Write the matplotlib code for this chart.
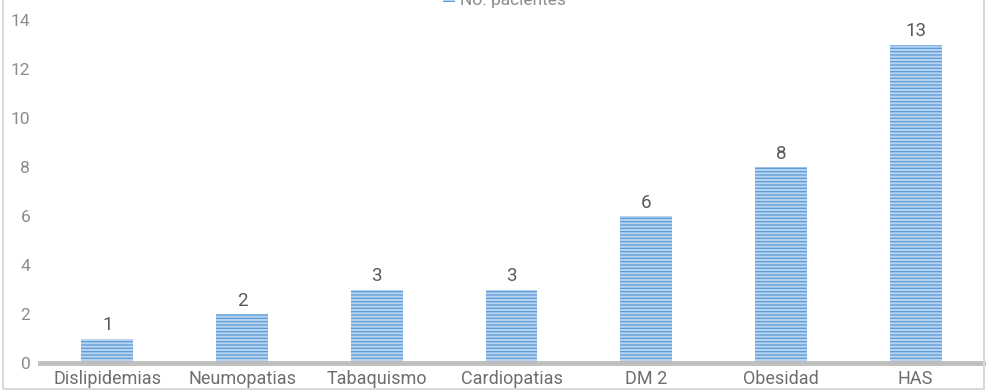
import matplotlib
matplotlib.use("Agg")
import matplotlib.pyplot as plt
from matplotlib.patches import Rectangle

categories = ["Dislipidemias", "Neumopatias", "Tabaquismo", "Cardiopatias", "DM 2", "Obesidad", "HAS"]
pacientes = [1, 2, 3, 3, 6, 8, 13]
y_ticks = [0, 2, 4, 6, 8, 10, 12, 14]
series_name = "No. pacientes"

plt.rcParams["font.family"] = ["Roboto", "DejaVu Sans"]
plt.rcParams["hatch.linewidth"] = 0.9
plt.rcParams["hatch.color"] = "#5b9bd5"

fig = plt.figure(figsize=(9.86, 3.91), dpi=100)
ax = fig.add_axes([40 / 986, 1 - 363 / 391, 943 / 986, 343 / 391])

x = list(range(len(categories)))
bars = ax.bar(x, pacientes, width=0.385, color="#b7d3f0", edgecolor="#5b9bd5",
              linewidth=0, hatch="-----", zorder=2)

for xi, v in zip(x, pacientes):
    ax.annotate(str(v), (xi, v), xytext=(0, 3), textcoords="offset points",
                ha="center", va="bottom", fontsize=13.5, color="#595959")

ax.set_xlim(-0.5, len(categories) - 0.5)
ax.set_ylim(0, 14)
ax.set_yticks(y_ticks)
ax.set_xticks(x)
ax.set_xticklabels(categories)
ax.tick_params(axis="y", length=0, labelsize=12.5, labelcolor="#8c8c8c", pad=7)
ax.tick_params(axis="x", length=0, labelsize=13, labelcolor="#6e6e6e", pad=5)
for s in ax.spines.values():
    s.set_visible(False)
ax.axhline(0, color="#bfbfbf", lw=3.5, zorder=3, clip_on=False)

# legend entry sitting at the top edge
fig.patches.append(Rectangle((443 / 986, 1 - 2 / 391), 12 / 986, 5 / 391,
                             transform=fig.transFigure, facecolor="#b7d3f0",
                             edgecolor="#5b9bd5", hatch="-----", linewidth=0))
fig.text(460 / 986, 1 - 1 / 391, series_name, ha="left", va="center",
         fontsize=12.5, color="#8c8c8c")

# outer frame
fig.patches.append(Rectangle((3 / 986, 2 / 391), 981 / 986, 395 / 391,
                             transform=fig.transFigure, fill=False,
                             edgecolor="#d9d9d9", linewidth=1.5))

fig.savefig("out.png", dpi=100)
